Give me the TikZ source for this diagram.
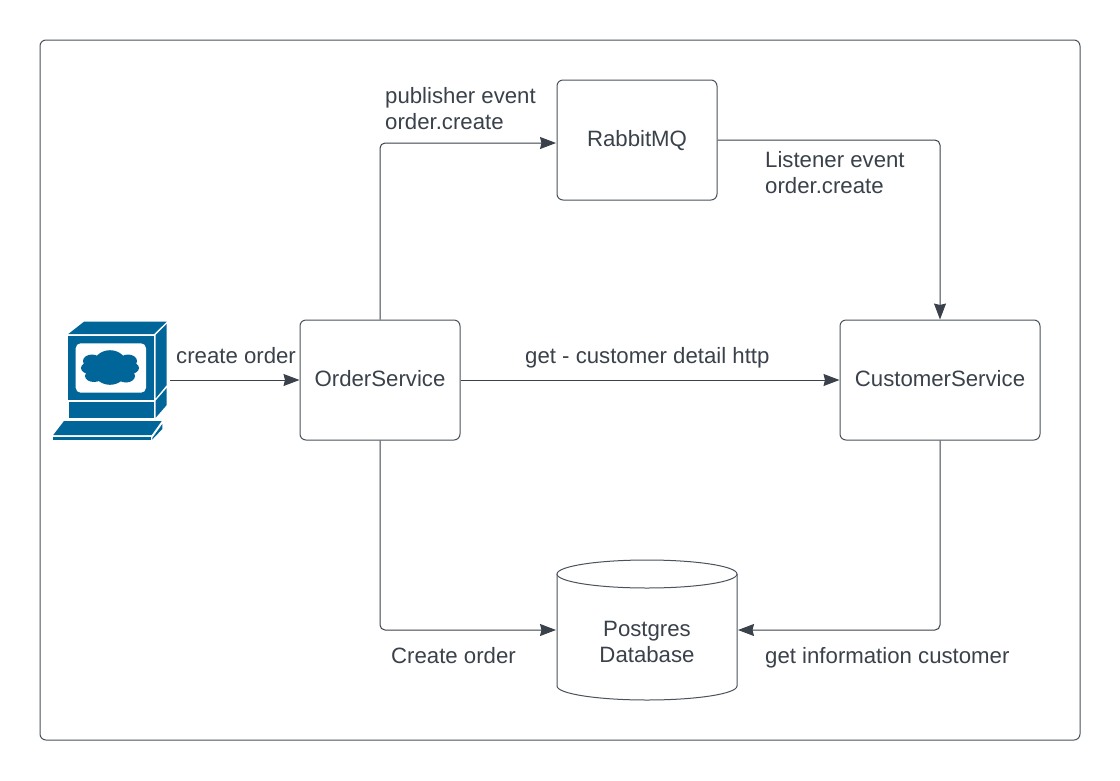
\documentclass[tikz,border=0pt]{standalone}
\usepackage{fontspec}
\setmainfont{Liberation Sans}
\usetikzlibrary{arrows.meta}
\definecolor{inkgrey}{HTML}{3A414A}
\definecolor{framegrey}{HTML}{4A525C}
\definecolor{iconblue}{HTML}{006699}
\tikzset{
  service/.style={draw=framegrey,line width=1pt,rounded corners=6pt,align=center,text=inkgrey,text height=15pt,text depth=2.5pt,font=\fontsize{22.2}{26}\selectfont},
  label/.style={anchor=west,align=left,inner sep=0pt,text=inkgrey,font=\fontsize{22.2}{26}\selectfont},
  link/.style={draw=inkgrey,line width=1pt,rounded corners=5pt,-{Stealth[length=16pt,width=12pt,inset=1.5pt]}},
  iconface/.style={fill=iconblue,draw=none},
}
\begin{document}
\begin{tikzpicture}[x=1pt,y=1pt,yscale=-1,xscale=1]
\useasboundingbox (0,0) rectangle (1120,780);

%Outer frame
\draw [draw=framegrey,line width=1pt,rounded corners=6pt] (40,40) rectangle (1080,740);

%Services
\node [service,minimum width=160pt,minimum height=120pt] (rabbitmq) at (637,140) {RabbitMQ};
\node [service,minimum width=160pt,minimum height=120pt] (orderservice) at (380,380) {OrderService};
\node [service,minimum width=200pt,minimum height=120pt] (customerservice) at (940,380) {CustomerService};

%Database
\draw [draw=framegrey,line width=1pt,fill=white] (557,574) -- (557,686) arc [start angle=180,end angle=0,x radius=90,y radius=14] -- (737,574);
\draw [draw=framegrey,line width=1pt,fill=white] (647,574) ellipse [x radius=90,y radius=14];
\node [align=center,inner sep=0pt,minimum width=180pt,minimum height=112pt,text=inkgrey,font=\fontsize{22.2}{26}\selectfont] (postgres) at (647,642) {Postgres\\Database};

%Computer
\fill [iconface] (68.3,334) -- (84,321.7) -- (166.7,321.7) -- (154,334) -- cycle;
\fill [iconface] (68.3,336) rectangle (154,399.5);
\fill [iconface] (155.7,335) -- (166.7,324) -- (166.7,385) -- (155.7,398.3) -- cycle;
\fill [iconface] (69,401.7) rectangle (154,417.7);
\fill [iconface] (155.7,400.7) -- (166.7,388) -- (166.7,405) -- (155.7,417.7) -- cycle;
\fill [iconface] (64,421) -- (161.7,421) -- (151.7,435) -- (53.3,435) -- cycle;
\fill [iconface] (53.3,436.7) rectangle (151,440);
\fill [iconface] (152.3,438) -- (162.3,424) -- (162.3,429) -- (152.3,439.5) -- cycle;
\fill [white,rounded corners=5pt] (75.7,343.3) rectangle (146,392.7);
%Cloud on the screen
\fill [iconface] (110,367.5) ellipse [x radius=18,y radius=17.3];
\fill [iconface] (92,361) ellipse [x radius=9,y radius=6.5];
\fill [iconface] (128,361) ellipse [x radius=9,y radius=6.5];
\fill [iconface] (90,368) ellipse [x radius=9,y radius=6];
\fill [iconface] (130,368) ellipse [x radius=9,y radius=6];
\fill [iconface] (94,376) ellipse [x radius=9,y radius=6];
\fill [iconface] (126,376) ellipse [x radius=9,y radius=6.5];
\coordinate (computer) at (170,380);

%Connector ends
\coordinate (rabbitin) at (556,143);
\coordinate (postgresleft) at (556,630);
\coordinate (postgresright) at (738,630);

%Connectors
\draw [link] (computer) -- (orderservice.west);
\draw [link] (orderservice.north) |- (rabbitin);
\draw [link] (rabbitmq.east) -| (customerservice.north);
\draw [link] (orderservice.east) -- (customerservice.west);
\draw [link] (orderservice.south) |- (postgresleft);
\draw [link] (customerservice.south) |- (postgresright);

%Labels
\node [label] (publisherlabel) at (385,109) {publisher event\\order.create};
\node [label] (listenerlabel) at (765,173) {Listener event\\order.create};
\node [label] (createorder) at (176,356) {create order};
\node [label] (httplabel) at (525,358) {get - customer detail http};
\node [label] (createlabel) at (391,656) {Create order};
\node [label] (infolabel) at (765,657.5) {get information customer};

\end{tikzpicture}
\end{document}
